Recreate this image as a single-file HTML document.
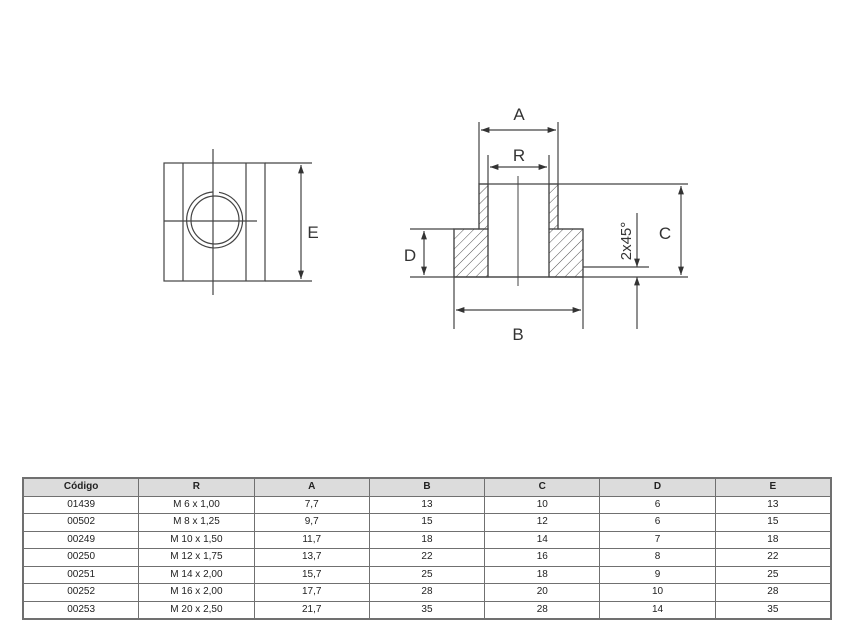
<!DOCTYPE html>
<html><head><meta charset="utf-8"><style>
body{margin:0;background:#fff;width:854px;height:643px;position:relative;font-family:"Liberation Sans",sans-serif;overflow:hidden}
svg{position:absolute;left:0;top:0}
table{position:absolute;left:23px;top:478px;width:808px;height:140px;border-collapse:collapse;font-size:10px;color:#222;table-layout:fixed}
tr{height:17.5px}
td{border:1.5px solid #707070;text-align:center;padding:0;line-height:14px}
tr.h td{background:#dcdcdc;font-weight:bold}
table{outline:1.5px solid #707070}
</style></head><body>
<svg width="854" height="643" viewBox="0 0 854 643">
<defs>
<marker id="a" viewBox="0 0 10 10" refX="10" refY="5" markerWidth="7" markerHeight="7" orient="auto-start-reverse"><path d="M0,1.5 L10,5 L0,8.5z" fill="#333"/></marker>
<pattern id="h" width="7" height="7" patternUnits="userSpaceOnUse" patternTransform="rotate(45)"><line x1="0" y1="0" x2="0" y2="7" stroke="#555" stroke-width="1"/></pattern>
</defs>
<g stroke="#444" stroke-width="1.2" fill="none">
<rect x="164" y="163" width="101" height="118"/>
<line x1="265" y1="163" x2="312" y2="163"/><line x1="265" y1="281" x2="312" y2="281"/>
<line x1="183" y1="163" x2="183" y2="281"/><line x1="246" y1="163" x2="246" y2="281"/>
<line x1="213" y1="149" x2="213" y2="295"/><line x1="164" y1="221" x2="257" y2="221"/>
<circle cx="215" cy="220" r="24"/>
<path d="M213,192 A28,28 0 1 0 219,192.3" />
<line x1="301" y1="165" x2="301" y2="279" marker-start="url(#a)" marker-end="url(#a)"/>
<rect x="454" y="229" width="34" height="48" fill="url(#h)"/>
<rect x="549" y="229" width="34" height="48" fill="url(#h)"/>
<rect x="479" y="184" width="9" height="45" fill="url(#h)"/>
<rect x="549" y="184" width="9" height="45" fill="url(#h)"/>
<path d="M454,229 H479 V184 H558 V229 H583 V277 H454 Z"/>
<line x1="488" y1="155" x2="488" y2="277"/><line x1="549" y1="155" x2="549" y2="277"/>
<line x1="479" y1="122" x2="479" y2="184"/><line x1="558" y1="122" x2="558" y2="184"/>
<line x1="481" y1="130" x2="556" y2="130" marker-start="url(#a)" marker-end="url(#a)"/>
<line x1="490" y1="167" x2="547" y2="167" marker-start="url(#a)" marker-end="url(#a)"/>
<line x1="558" y1="184" x2="688" y2="184"/>
<line x1="410" y1="277" x2="688" y2="277"/>
<line x1="410" y1="229" x2="454" y2="229"/>
<line x1="424" y1="231" x2="424" y2="275" marker-start="url(#a)" marker-end="url(#a)"/>
<line x1="518" y1="176" x2="518" y2="286" stroke-width="1"/>
<line x1="454" y1="277" x2="454" y2="329"/><line x1="583" y1="277" x2="583" y2="329"/>
<line x1="456" y1="310" x2="581" y2="310" marker-start="url(#a)" marker-end="url(#a)"/>
<line x1="681" y1="186" x2="681" y2="275" marker-start="url(#a)" marker-end="url(#a)"/>
<line x1="583" y1="267" x2="649" y2="267"/>
<line x1="637" y1="213" x2="637" y2="267" marker-end="url(#a)"/>
<line x1="637" y1="329" x2="637" y2="277" marker-end="url(#a)"/>
</g>
<g font-family="Liberation Sans,sans-serif" font-size="17" fill="#333" text-anchor="middle">
<text x="519" y="120">A</text>
<text x="519" y="161">R</text>
<text x="410" y="261">D</text>
<text x="518" y="340">B</text>
<text x="665" y="239">C</text>
<text x="313" y="238">E</text>
<text x="627" y="241" font-size="15" transform="rotate(-90 627 241)" dominant-baseline="middle">2x45°</text>
</g>
</svg>
<table>
<tr class="h"><td>Código</td><td>R</td><td>A</td><td>B</td><td>C</td><td>D</td><td>E</td></tr>
<tr><td>01439</td><td>M 6 x 1,00</td><td>7,7</td><td>13</td><td>10</td><td>6</td><td>13</td></tr>
<tr><td>00502</td><td>M 8 x 1,25</td><td>9,7</td><td>15</td><td>12</td><td>6</td><td>15</td></tr>
<tr><td>00249</td><td>M 10 x 1,50</td><td>11,7</td><td>18</td><td>14</td><td>7</td><td>18</td></tr>
<tr><td>00250</td><td>M 12 x 1,75</td><td>13,7</td><td>22</td><td>16</td><td>8</td><td>22</td></tr>
<tr><td>00251</td><td>M 14 x 2,00</td><td>15,7</td><td>25</td><td>18</td><td>9</td><td>25</td></tr>
<tr><td>00252</td><td>M 16 x 2,00</td><td>17,7</td><td>28</td><td>20</td><td>10</td><td>28</td></tr>
<tr><td>00253</td><td>M 20 x 2,50</td><td>21,7</td><td>35</td><td>28</td><td>14</td><td>35</td></tr>
</table>
</body></html>
